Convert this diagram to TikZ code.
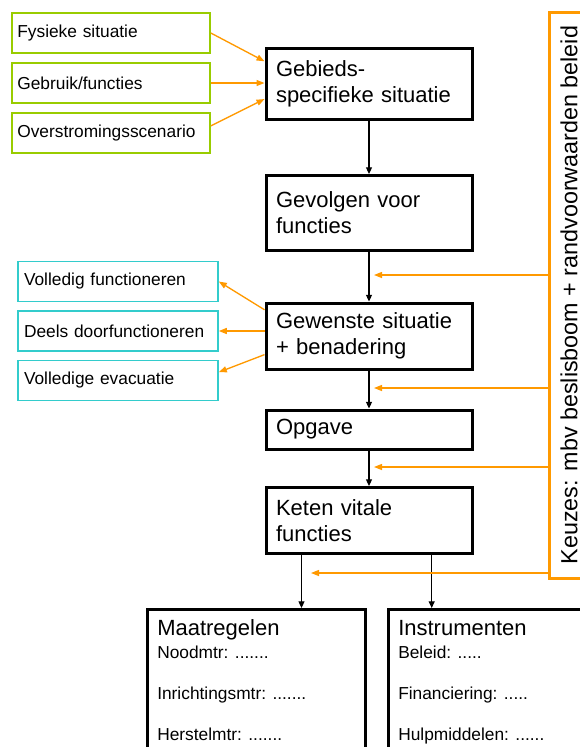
\documentclass[tikz,border=0pt]{standalone}
\usepackage{fontspec}
\setmainfont{Liberation Sans}
\usetikzlibrary{arrows.meta,calc,positioning}
\definecolor{oranje}{RGB}{255,153,0}
\definecolor{groen}{RGB}{153,204,0}
\definecolor{turkoois}{RGB}{51,204,204}
\tikzset{
  hoofdvak/.style={draw,line width=2.25pt,font=\fontsize{16.5}{19.5}\selectfont,inner xsep=7.5pt,text width=139.5pt,align=left},
  zijvak/.style={line width=1.2pt,font=\fontsize{13}{15}\selectfont,minimum height=30pt,align=left},
  groot/.style={draw,line width=2.25pt,anchor=north west,minimum height=150pt},
  vaktekst/.style={anchor=base west,inner xsep=0pt,font=\fontsize{13}{15}\selectfont},
  zwartpijl/.style={-{Triangle[length=5pt,width=4.5pt]},line width=0.8pt},
  oranjepijl/.style={oranje,-{Triangle[length=6pt,width=4.5pt]},line width=1pt},
}
\begin{document}
\begin{tikzpicture}[x=0.75pt,y=-0.75pt]
\useasboundingbox (0,0) rectangle (580,747);
\clip (0,0) rectangle (580,747);
% invoer links boven
\foreach \n/\y/\t in {fys/33/{Fysieke situatie},gebr/83/{Gebruik/functies},over/133/{Overstromingsscenario}}{
  \node[zijvak,draw=groen,inner xsep=4pt,text width=140.5pt] (\n) at (111,\y) {\t};}
% keuzes links midden
\foreach \n/\y/\t in {vf/281.5/{Volledig functioneren},df/331/{Deels doorfunctioneren},ve/380.5/{Volledige evacuatie}}{
  \node[zijvak,draw=turkoois,inner xsep=4.5pt,text width=141pt] (\n) at (118,\y) {\t};}
% hoofdlijn
\node[hoofdvak,minimum height=53.25pt] (geb) at (369,83.5) {Gebieds-\\specifieke situatie};
\node[hoofdvak,minimum height=56.25pt] (gev) at (369,213) {Gevolgen voor\\functies};
\node[hoofdvak,minimum height=49.5pt] (gew) at (369,336) {Gewenste situatie\\+ benadering};
\node[hoofdvak,minimum height=29.25pt] (opg) at (369,429.5) {Opgave};
\node[hoofdvak,minimum height=49.5pt] (ket) at (369,520.5) {Keten vitale\\functies};
\foreach \a/\b in {geb/gev,gev/gew,gew/opg,opg/ket}{\draw[zwartpijl](\a.south)--(\a.south |- \b.north);}
% onderste vakken
\node[groot,minimum width=163.5pt] (maat) at (146,608) {};
\node[groot,minimum width=165pt] (instr) at (387,608) {};
\node[vaktekst,font=\fontsize{16.5}{19.5}\selectfont] (maatkop) at (157,635) {Maatregelen};
\node[vaktekst,font=\fontsize{16.5}{19.5}\selectfont] (instrkop) at (398,635) {Instrumenten};
\foreach \y/\t [count=\i] in {658/{Noodmtr: .......},699/{Inrichtingsmtr: .......},740/{Herstelmtr: .......}}{
  \node[vaktekst] (maat\i) at (157,\y) {\t};}
\foreach \y/\t [count=\i] in {658/{Beleid: .....},699/{Financiering: .....},740/{Hulpmiddelen: ......}}{
  \node[vaktekst] (instr\i) at (398,\y) {\t};}
\coordinate (k1) at ($(ket.south west)!0.177!(ket.south east)$);
\coordinate (k2) at ($(ket.south west)!0.8!(ket.south east)$);
\draw[zwartpijl](k1)--(k1 |- maat.north);
\draw[zwartpijl](k2)--(k2 |- instr.north);
% keuzes rechts
\node[draw=oranje,line width=2.25pt,rotate=90,minimum width=424.5pt,minimum height=30pt,inner sep=0pt,font=\fontsize{17.5}{20}\selectfont] (keuze) at (569,295) {Keuzes: mbv beslisboom + randvoorwaarden beleid};
\foreach \y/\xe [count=\i] in {275/374,388/374,467/374,573/311}{
  \coordinate (kz\i) at (\xe,\y);
  \draw[oranjepijl](keuze.north |- kz\i)--(kz\i);}
% pijlen naar en van de zijvakken
\draw[oranjepijl](fys.east)--($(geb.north west)!0.2!(geb.south west)$);
\draw[oranjepijl](gebr.east)--(gebr.east -| geb.west);
\draw[oranjepijl]($(over.north east)!0.33!(over.south east)$)--($(geb.north west)!0.71!(geb.south west)$);
\draw[oranjepijl]($(gew.north west)!0.12!(gew.south west)$)--(vf.east);
\draw[oranjepijl](gew.west |- df.east)--(df.east);
\draw[oranjepijl]($(gew.north west)!0.77!(gew.south west)$)--($(ve.north east)!0.3!(ve.south east)$);
\end{tikzpicture}
\end{document}
